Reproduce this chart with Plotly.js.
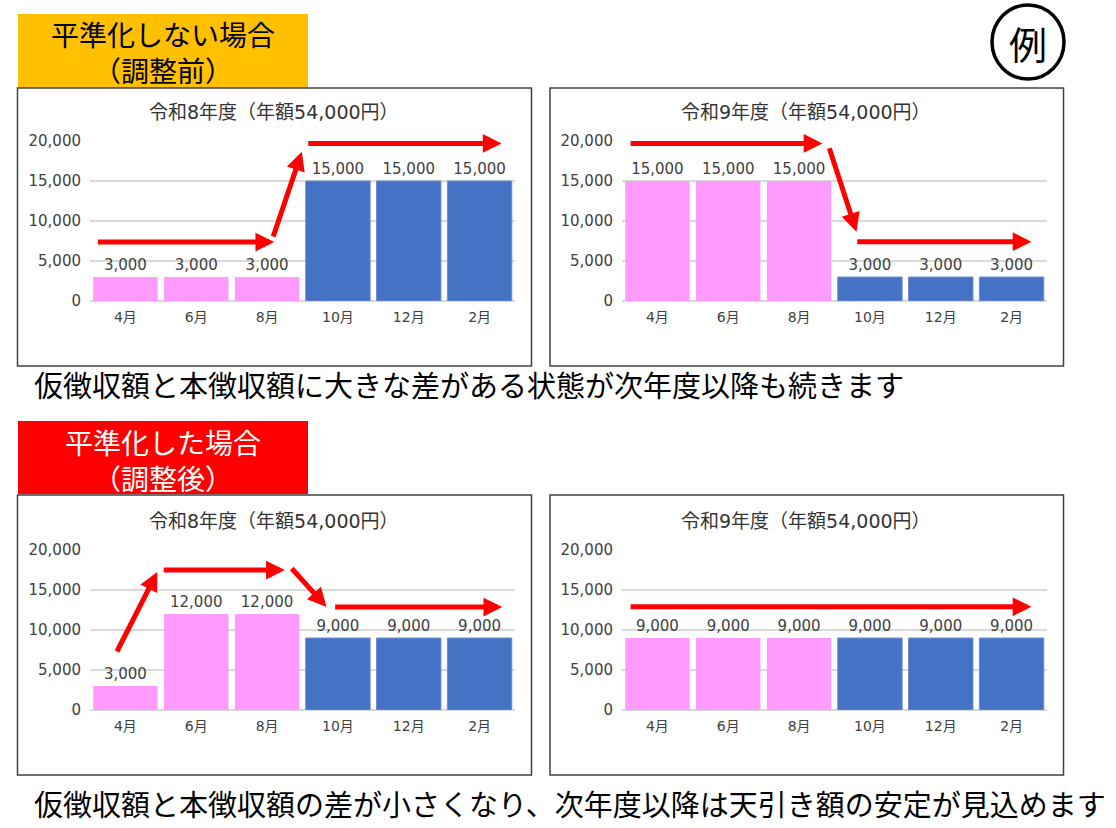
<!DOCTYPE html>
<html>
<head>
<meta charset="utf-8">
<script src="https://cdn.plot.ly/plotly-3.0.1.min.js"></script>
<style>
  body { margin: 0; background: #ffffff; }
  #chart { width: 1116px; height: 828px; }
</style>
</head>
<body>
<div id="chart"></div>
<script>
// 月ごとの天引き額（円）
const months = ['4月', '6月', '8月', '10月', '12月', '2月'];
const kariCount = 3; // 4月〜8月は仮徴収、10月〜2月は本徴収

const r8Before = [3000, 3000, 3000, 15000, 15000, 15000];
const r9Before = [15000, 15000, 15000, 3000, 3000, 3000];
const r8After = [3000, 12000, 12000, 9000, 9000, 9000];
const r9After = [9000, 9000, 9000, 9000, 9000, 9000];

const chartTitles = [
  '令和8年度（年額54,000円）',
  '令和9年度（年額54,000円）',
  '令和8年度（年額54,000円）',
  '令和9年度（年額54,000円）'
];

const W = 1116, H = 828;
const pink = '#ff9bff';
const blue = '#4472c4';
const numFont = 'DejaVu Sans, Noto Sans CJK JP, sans-serif';
const jpFont = 'Noto Sans CJK JP, sans-serif';

// ピクセル -> paper 座標
function px(x) { return x / W; }
function py(y) { return 1 - y / H; }

// 仮徴収（ピンク）と本徴収（青）の2本に分けて描く
function barTraces(values, n) {
  var xa = 'x' + (n === 1 ? '' : n);
  var ya = 'y' + (n === 1 ? '' : n);
  var common = {
    type: 'bar',
    xaxis: xa,
    yaxis: ya,
    texttemplate: '%{y:,.0f}',
    textposition: 'outside',
    textfont: { family: numFont, size: 15, color: '#404040' },
    cliponaxis: false,
    hoverinfo: 'skip',
    showlegend: false
  };
  return [
    Object.assign({}, common, {
      x: months.slice(0, kariCount),
      y: values.slice(0, kariCount),
      marker: { color: pink }
    }),
    Object.assign({}, common, {
      x: months.slice(kariCount),
      y: values.slice(kariCount),
      marker: { color: blue, line: { color: '#6f90cf', width: 1 } }
    })
  ];
}

var data = [].concat(
  barTraces(r8Before, 1),
  barTraces(r9Before, 2),
  barTraces(r8After, 3),
  barTraces(r9After, 4)
);

// 各グラフの描画領域（px）
var areas = [
  { x: [90, 515], y: [141, 301], box: [17.5, 531.5, 88, 366], tx: 274, ty: 112 },
  { x: [622, 1047], y: [141, 301], box: [550, 1063.5, 88, 366], tx: 806, ty: 112 },
  { x: [90, 515], y: [550, 710], box: [17.5, 531.5, 495, 775], tx: 274, ty: 521 },
  { x: [622, 1047], y: [550, 710], box: [550, 1063.5, 495, 775], tx: 806, ty: 521 }
];

var layout = {
  width: W,
  height: H,
  margin: { t: 0, b: 0, l: 0, r: 0 },
  paper_bgcolor: '#ffffff',
  plot_bgcolor: 'rgba(0,0,0,0)',
  barmode: 'relative',
  bargap: 0.09,
  showlegend: false,
  shapes: [],
  annotations: []
};

// 見出しの色付きボックス
layout.shapes.push({ type: 'rect', xref: 'paper', yref: 'paper', x0: px(18), x1: px(308), y0: py(88), y1: py(14),
  fillcolor: '#ffc000', line: { width: 0 }, layer: 'below' });
layout.shapes.push({ type: 'rect', xref: 'paper', yref: 'paper', x0: px(18), x1: px(308), y0: py(494), y1: py(421),
  fillcolor: '#ff0000', line: { width: 0 }, layer: 'below' });
// 「例」の丸
layout.shapes.push({ type: 'circle', xref: 'paper', yref: 'paper', x0: px(992), x1: px(1064), y0: py(79), y1: py(5),
  line: { color: '#000000', width: 3.5 } });

for (let i = 0; i < 4; i++) {
  var a = areas[i];
  var n = i + 1;
  var sfx = n === 1 ? '' : n;
  layout['xaxis' + sfx] = {
    domain: [px(a.x[0]), px(a.x[1])],
    anchor: 'y' + sfx,
    type: 'category',
    categoryorder: 'array',
    categoryarray: months,
    showgrid: false,
    showline: false,
    zeroline: false,
    ticks: '',
    ticklabelstandoff: 6,
    tickfont: { family: numFont, size: 14, color: '#404040' },
    fixedrange: true
  };
  layout['yaxis' + sfx] = {
    domain: [py(a.y[1]), py(a.y[0])],
    anchor: 'x' + sfx,
    range: [0, 20000],
    dtick: 5000,
    tickformat: ',d',
    showgrid: true,
    gridcolor: '#d9d9d9',
    gridwidth: 1.5,
    zeroline: true,
    zerolinecolor: '#d9d9d9',
    zerolinewidth: 1.5,
    showline: false,
    ticks: '',
    ticklabelstandoff: 8,
    tickfont: { family: numFont, size: 15, color: '#404040' },
    fixedrange: true
  };
  // 枠
  layout.shapes.push({ type: 'rect', xref: 'paper', yref: 'paper',
    x0: px(a.box[0]), x1: px(a.box[1]), y0: py(a.box[3]), y1: py(a.box[2]),
    line: { color: '#404040', width: 1.5 } });
  // グラフタイトル
  layout.annotations.push({ xref: 'paper', yref: 'paper', x: px(a.tx), y: py(a.ty),
    text: chartTitles[i], showarrow: false, xanchor: 'center', yanchor: 'middle',
    font: { family: numFont, size: 19, color: '#333333' } });
}

// 赤い矢印（データ座標: 始点 -> 終点）
function arrow(n, x0, y0, x1, y1) {
  var sfx = n === 1 ? '' : n;
  return {
    xref: 'x' + sfx, yref: 'y' + sfx, axref: 'x' + sfx, ayref: 'y' + sfx,
    x: x1, y: y1, ax: x0, ay: y0,
    text: '', showarrow: true,
    arrowhead: 2, arrowsize: 0.75, arrowwidth: 5, arrowcolor: '#ff0000'
  };
}

layout.annotations.push(
  arrow(1, -0.41, 7375, 2.10, 7375),
  arrow(1, 2.08, 7875, 2.49, 18660),
  arrow(1, 2.56, 19700, 5.31, 19700),

  arrow(2, -0.40, 19700, 2.33, 19700),
  arrow(2, 2.42, 19290, 2.81, 8660),
  arrow(2, 2.80, 7410, 5.28, 7410),

  arrow(3, -0.13, 7125, 0.45, 17250),
  arrow(3, 0.52, 17500, 2.25, 17500),
  arrow(3, 2.33, 17875, 2.84, 12875),
  arrow(3, 2.94, 12875, 5.32, 12875),

  arrow(4, -0.40, 12900, 5.28, 12900)
);

// 見出し・説明文
function label(text, x, y, size, color, anchor) {
  return { xref: 'paper', yref: 'paper', x: px(x), y: py(y), text: text,
    showarrow: false, xanchor: anchor || 'center', yanchor: 'middle',
    font: { family: jpFont, size: size, color: color } };
}

layout.annotations.push(
  label('平準化しない場合<br>（調整前）', 163, 52, 28, '#000000'),
  label('平準化した場合<br>（調整後）', 163, 460, 28, '#ffffff'),
  label('例', 1028, 42, 38, '#000000'),
  label('仮徴収額と本徴収額に大きな差がある状態が次年度以降も続きます', 32, 384, 29, '#000000', 'left'),
  label('仮徴収額と本徴収額の差が小さくなり、次年度以降は天引き額の安定が見込めます', 32, 803, 29, '#000000', 'left')
);

Plotly.newPlot('chart', data, layout, { staticPlot: true, displayModeBar: false });
</script>
</body>
</html>
